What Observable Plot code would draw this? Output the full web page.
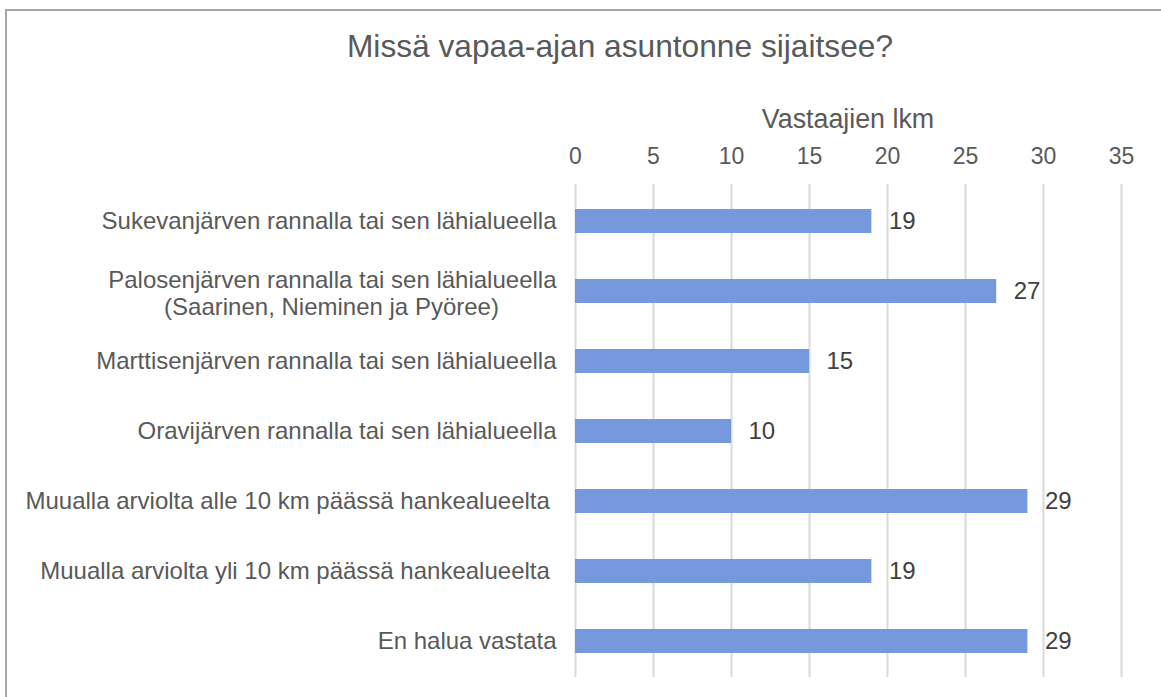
<!DOCTYPE html>
<html>
<head>
<meta charset="utf-8">
<script src="https://cdn.jsdelivr.net/npm/d3@7"></script>
<script src="https://cdn.jsdelivr.net/npm/@observablehq/plot@0.6"></script>
<style>
  html, body { margin: 0; padding: 0; background: #fff; }
  #wrap { position: relative; width: 1161px; height: 697px; overflow: hidden; font-family: "Liberation Sans", Arial, sans-serif; }
  #frame { position: absolute; left: 5px; top: 9px; width: 1200px; height: 760px; border: 2px solid #a6a6a6; box-sizing: border-box; }
  #title { position: absolute; left: 0; top: 31px; width: 1240px; text-align: center; font-size: 31.7px; line-height: 31.7px; color: #595959; white-space: nowrap; }
  #axtitle { position: absolute; left: 575px; top: 106px; width: 546px; text-align: center; font-size: 26.8px; line-height: 26.8px; color: #595959; white-space: nowrap; }
  #chart { position: absolute; left: 0; top: 130px; }
</style>
</head>
<body>
<div id="wrap">
  <div id="frame"></div>
  <div id="title">Missä vapaa-ajan asuntonne sijaitsee?</div>
  <div id="axtitle">Vastaajien lkm</div>
  <div id="chart"></div>
</div>
<script>
const categories = [
  "Sukevanjärven rannalla tai sen lähialueella",
  "Palosenjärven rannalla tai sen lähialueella (Saarinen, Nieminen ja Pyöree)",
  "Marttisenjärven rannalla tai sen lähialueella",
  "Oravijärven rannalla tai sen lähialueella",
  "Muualla arviolta alle 10 km päässä hankealueelta",
  "Muualla arviolta yli 10 km päässä hankealueelta",
  "En halua vastata"
];
const values = [19, 27, 15, 10, 29, 19, 29];
const xTicks = [0, 5, 10, 15, 20, 25, 30, 35];
const labelLine1 = [
  "Sukevanjärven rannalla tai sen lähialueella",
  "Palosenjärven rannalla tai sen lähialueella",
  "Marttisenjärven rannalla tai sen lähialueella",
  "Oravijärven rannalla tai sen lähialueella",
  "Muualla arviolta alle 10 km päässä hankealueelta\u00a0",
  "Muualla arviolta yli 10 km päässä hankealueelta\u00a0",
  "En halua vastata"
];
const labelLine2 = ["", "(Saarinen, Nieminen ja Pyöree)", "", "", "", "", ""];

const data = categories.map((c, i) => ({cat: c, value: values[i], l1: labelLine1[i], l2: labelLine2[i]}));
const single = data.filter(d => !d.l2);
const double = data.filter(d => d.l2);

const chart = Plot.plot({
  width: 1161,
  height: 567,
  marginLeft: 575,
  marginRight: 40,
  marginTop: 54,
  marginBottom: 20,
  style: {fontFamily: "'Liberation Sans', Arial, sans-serif", fontSize: "24px", color: "#595959", background: "transparent"},
  x: {domain: [0, 35], ticks: xTicks},
  y: {domain: categories, paddingInner: 0.66, paddingOuter: 0.33, axis: null},
  marks: [
    Plot.gridX(xTicks, {stroke: "#d9d9d9", strokeOpacity: 1, strokeWidth: 2}),
    Plot.axisX(xTicks, {anchor: "top", tickSize: 0, tickPadding: 21, label: null, fontSize: 23, fill: "#595959"}),
    Plot.barX(data, {x: "value", y: "cat", fill: "#7698dd"}),
    Plot.text(data, {x: "value", y: "cat", text: d => String(d.value), dx: 17, textAnchor: "start", fill: "#404040", fontSize: 24}),
    Plot.text(single, {y: "cat", frameAnchor: "left", text: "l1", dx: -19, textAnchor: "end", fill: "#595959", fontSize: 24}),
    Plot.text(double, {y: "cat", frameAnchor: "left", text: "l1", dx: -19, dy: -11, textAnchor: "end", fill: "#595959", fontSize: 24}),
    Plot.text(double, {y: "cat", frameAnchor: "left", text: "l2", dx: -244, dy: 16, textAnchor: "middle", fill: "#595959", fontSize: 24})
  ]
});
document.getElementById("chart").appendChild(chart);
</script>
</body>
</html>
